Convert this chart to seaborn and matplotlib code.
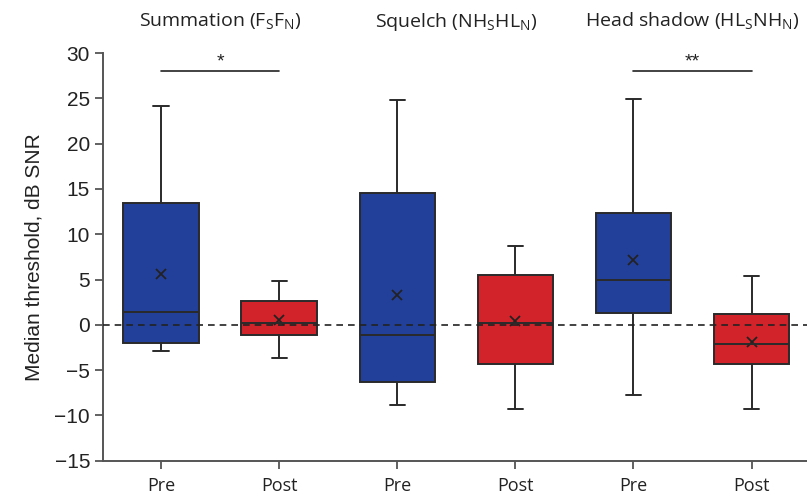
import numpy as np
import pandas as pd
import seaborn as sns
import matplotlib.pyplot as plt
from matplotlib.transforms import blended_transform_factory

# box statistics (dB SNR)
boxes = ["sum_pre", "sum_post", "sq_pre", "sq_post", "hs_pre", "hs_post"]
times = ["Pre", "Post", "Pre", "Post", "Pre", "Post"]
lows = [-2.9, -3.7, -8.8, -9.3, -7.7, -9.3]
q1s = [-2.05, -1.1, -6.25, -4.3, 1.3, -4.3]
medians = [1.4, 0.2, -1.1, 0.2, 5.0, -2.1]
q3s = [13.5, 2.65, 14.6, 5.5, 12.35, 1.2]
highs = [24.2, 4.8, 24.8, 8.75, 24.9, 5.4]
means = [5.6, 0.55, 3.3, 0.4, 7.15, -1.85]

groups = ["Summation (F$_\\mathregular{S}$F$_\\mathregular{N}$)",
          "Squelch (NH$_\\mathregular{S}$HL$_\\mathregular{N}$)",
          "Head shadow (HL$_\\mathregular{S}$NH$_\\mathregular{N}$)"]
sig_pairs = [(0, 1, "*"), (4, 5, "**")]
sig_y = 28

# five points per box -> quartiles land exactly on the read values
rows = []
for b, t, lo, a, m, c, hi in zip(boxes, times, lows, q1s, medians, q3s, highs):
    for v in (lo, a, m, c, hi):
        rows.append({"box": b, "time": t, "value": v})
df = pd.DataFrame(rows)

sns.set_style("ticks")
plt.rcParams["font.family"] = ["Liberation Sans", "DejaVu Sans"]

fig = plt.figure(figsize=(8.07, 4.96), dpi=100)
ax = fig.add_axes([0.128, 0.071, 0.872, 0.822])

pal = {"Pre": "#22409a", "Post": "#d2232a"}
sns.boxplot(data=df, x="box", y="value", hue="time", palette=pal, order=boxes,
            dodge=False, width=0.64, whis=(0, 100), linewidth=1.4,
            linecolor="#2a2a2a", saturation=1, legend=False, ax=ax)

# narrower whisker caps, as in the original
n_caps = 0
for ln in list(ax.lines):
    x = np.asarray(ln.get_xdata(), dtype=float)
    y = np.asarray(ln.get_ydata(), dtype=float)
    if len(x) == 2 and abs(y[0] - y[1]) < 1e-9 and 0.2 < abs(x[1] - x[0]) < 0.5:
        c = x.mean()
        ln.set_data([c - 0.065, c + 0.065], y)
        n_caps += 1

sns.pointplot(x=boxes, y=means, order=boxes, linestyle="none", marker="x",
              markersize=7, markeredgewidth=1.3, color="#222222",
              errorbar=None, ax=ax)

ax.axhline(0, color="#222222", lw=1.2, ls=(0, (4, 3)), zorder=5)

for a, b, label in sig_pairs:
    ax.plot([a, b], [sig_y, sig_y], color="#222222", lw=1.2)
    ax.text((a + b) / 2, sig_y + 0.1, label, ha="center", va="bottom",
            fontsize=14, color="#222222")

trans = blended_transform_factory(ax.transData, ax.transAxes)
for i, g in enumerate(groups):
    ax.text(2 * i + 0.5, 1.077, g, transform=trans, ha="center", va="center",
            fontsize=14, color="#222222", family=["Open Sans", "DejaVu Sans"])

ax.set_ylim(-15, 30)
ax.set_xlim(-0.49, 5.47)
ax.set_yticks(np.arange(-15, 31, 5))
ax.set_xticks(range(len(boxes)))
ax.set_xticklabels(times, fontsize=13, family=["Open Sans", "DejaVu Sans"])
ax.tick_params(axis="y", labelsize=15, length=6, width=1.3, color="#555555",
               labelcolor="#222222")
ax.tick_params(axis="x", length=6, width=1.3, color="#555555",
               labelcolor="#222222", pad=6)
ax.set_xlabel("")
ax.set_ylabel("Median threshold, dB SNR", fontsize=15, color="#222222",
              labelpad=8)
sns.despine(ax=ax)
for s in ("left", "bottom"):
    ax.spines[s].set_color("#555555")
    ax.spines[s].set_linewidth(1.4)

if n_caps != 12:
    ax.text(2.5, -13, f"caps changed: {n_caps} / lines {len(ax.lines)}", ha="center")

fig.savefig("out.png", dpi=100)
